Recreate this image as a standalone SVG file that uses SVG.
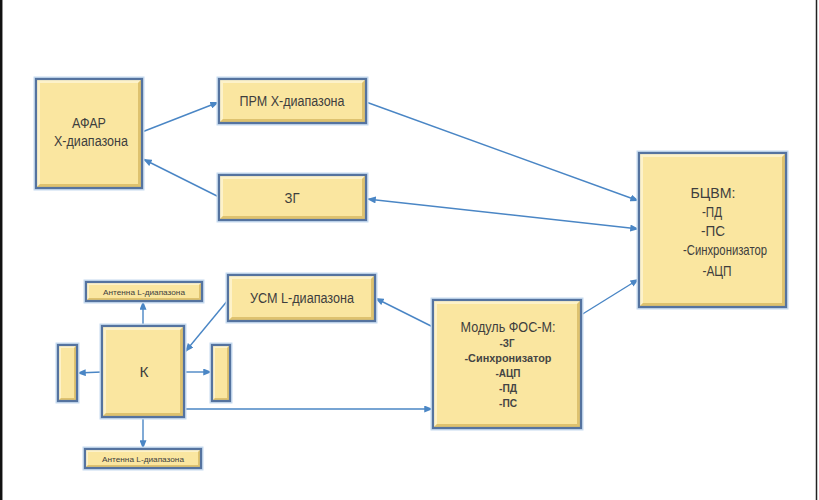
<svg xmlns="http://www.w3.org/2000/svg" width="819" height="500" viewBox="0 0 819 500">
<defs>
<marker id="ah" viewBox="0 0 10 8" refX="10" refY="4" markerWidth="9" markerHeight="7" markerUnits="userSpaceOnUse" orient="auto-start-reverse">
<path d="M0,0 L10,4 L0,8 Z" fill="#4A86C5"/>
</marker>
</defs>
<style>
.glow{fill:none;stroke:#C6DAEF;stroke-width:5}
.base{fill:#FAE6A0}
.lt{fill:#FDF2C9}
.dk{fill:#DEC26F}
.bd{fill:none;stroke:#55739F;stroke-width:2.2}
.t{font-family:"Liberation Sans Narrow","Liberation Sans",Arial,sans-serif;fill:#3E3E3E;text-anchor:middle}
.s{font-family:"Liberation Sans",Arial,sans-serif;fill:#444444;text-anchor:middle;font-weight:bold}
.c{fill:none;stroke:#4A86C5;stroke-width:1.4}
</style>
<rect x="0" y="0" width="819" height="500" fill="#FFFFFF"/>
<line x1="1.2" y1="0" x2="1.2" y2="500" stroke="#111" stroke-width="2.5"/>
<line x1="816.5" y1="0" x2="816.5" y2="500" stroke="#222" stroke-width="1.5"/>

<g id="connectors">
<line class="c" x1="142" y1="132" x2="219" y2="102" marker-end="url(#ah)"/>
<line class="c" x1="219" y1="197" x2="143" y2="159" marker-end="url(#ah)"/>
<line class="c" x1="366" y1="102" x2="639" y2="201" marker-end="url(#ah)"/>
<line class="c" x1="367" y1="199" x2="639" y2="229" marker-start="url(#ah)" marker-end="url(#ah)"/>
<line class="c" x1="581" y1="315" x2="639" y2="279" marker-end="url(#ah)"/>
<line class="c" x1="433" y1="327" x2="375" y2="298" marker-end="url(#ah)"/>
<line class="c" x1="228" y1="300" x2="185" y2="352" marker-end="url(#ah)"/>
<line class="c" x1="184" y1="409" x2="433" y2="409" marker-end="url(#ah)"/>
<line class="c" x1="143" y1="326" x2="143" y2="301" marker-end="url(#ah)"/>
<line class="c" x1="143" y1="417" x2="143" y2="449" marker-end="url(#ah)"/>
<line class="c" x1="102" y1="372" x2="77" y2="373" marker-end="url(#ah)"/>
<line class="c" x1="184" y1="372" x2="212" y2="372" marker-end="url(#ah)"/>
</g>

<g id="afar">
<rect class="glow" x="36" y="79" width="106" height="109"/>
<rect class="base" x="36" y="79" width="106" height="109"/>
<path class="lt" d="M36 79 H142 L138 83 H40 V184 L36 188 Z"/>
<path class="dk" d="M142 79 V188 H36 L40 184 H138 V83 Z"/>
<rect class="bd" x="36" y="79" width="106" height="109"/>
<text class="t" x="89" y="128" font-size="14" textLength="34" lengthAdjust="spacingAndGlyphs">АФАР</text>
<text class="t" x="91" y="146" font-size="14" textLength="74" lengthAdjust="spacingAndGlyphs">Х-диапазона</text>
</g>

<g id="prm">
<rect class="glow" x="219" y="79" width="147" height="44"/>
<rect class="base" x="219" y="79" width="147" height="44"/>
<path class="lt" d="M219 79 H366 L362 83 H223 V119 L219 123 Z"/>
<path class="dk" d="M366 79 V123 H219 L223 119 H362 V83 Z"/>
<rect class="bd" x="219" y="79" width="147" height="44"/>
<text class="t" x="292" y="106" font-size="14" textLength="105" lengthAdjust="spacingAndGlyphs">ПРМ Х-диапазона</text>
</g>

<g id="zg">
<rect class="glow" x="219" y="175" width="147" height="45"/>
<rect class="base" x="219" y="175" width="147" height="45"/>
<path class="lt" d="M219 175 H366 L362 179 H223 V216 L219 220 Z"/>
<path class="dk" d="M366 175 V220 H219 L223 216 H362 V179 Z"/>
<rect class="bd" x="219" y="175" width="147" height="45"/>
<text class="t" x="292" y="203" font-size="14" textLength="15" lengthAdjust="spacingAndGlyphs">ЗГ</text>
</g>

<g id="bcvm">
<rect class="glow" x="639" y="153" width="147" height="154"/>
<rect class="base" x="639" y="153" width="147" height="154"/>
<path class="lt" d="M639 153 H786 L782 157 H643 V303 L639 307 Z"/>
<path class="dk" d="M786 153 V307 H639 L643 303 H782 V157 Z"/>
<rect class="bd" x="639" y="153" width="147" height="154"/>
<text class="t" x="713" y="198" font-size="15" textLength="45" lengthAdjust="spacingAndGlyphs">БЦВМ:</text>
<text class="t" x="712" y="217" font-size="15" textLength="20" lengthAdjust="spacingAndGlyphs">-ПД</text>
<text class="t" x="713" y="236" font-size="15" textLength="24" lengthAdjust="spacingAndGlyphs">-ПС</text>
<text class="t" x="725" y="255" font-size="15" textLength="84" lengthAdjust="spacingAndGlyphs">-Синхронизатор</text>
<text class="t" x="717" y="276" font-size="15" textLength="29" lengthAdjust="spacingAndGlyphs">-АЦП</text>
</g>

<g id="usm">
<rect class="glow" x="228" y="275" width="147" height="46"/>
<rect class="base" x="228" y="275" width="147" height="46"/>
<path class="lt" d="M228 275 H375 L371 279 H232 V317 L228 321 Z"/>
<path class="dk" d="M375 275 V321 H228 L232 317 H371 V279 Z"/>
<rect class="bd" x="228" y="275" width="147" height="46"/>
<text class="t" x="302" y="303" font-size="14" textLength="104" lengthAdjust="spacingAndGlyphs">УСМ L-диапазона</text>
</g>

<g id="ant-top">
<rect class="glow" x="86" y="282" width="116" height="19"/>
<rect class="base" x="86" y="282" width="116" height="19"/>
<path class="lt" d="M86 282 H202 L199 285 H89 V298 L86 301 Z"/>
<path class="dk" d="M202 282 V301 H86 L89 298 H199 V285 Z"/>
<rect class="bd" x="86" y="282" width="116" height="19"/>
<text class="t" x="144" y="294.5" font-size="8" textLength="82" lengthAdjust="spacingAndGlyphs">Антенна L-диапазона</text>
</g>

<g id="k">
<rect class="glow" x="102" y="326" width="82" height="91"/>
<rect class="base" x="102" y="326" width="82" height="91"/>
<path class="lt" d="M102 326 H184 L180 330 H106 V413 L102 417 Z"/>
<path class="dk" d="M184 326 V417 H102 L106 413 H180 V330 Z"/>
<rect class="bd" x="102" y="326" width="82" height="91"/>
<text class="t" x="144" y="377" font-size="15" textLength="9" lengthAdjust="spacingAndGlyphs">К</text>
</g>

<g id="side-left">
<rect class="glow" x="58" y="345" width="19" height="56"/>
<rect class="base" x="58" y="345" width="19" height="56"/>
<path class="lt" d="M58 345 H77 L74 348 H61 V398 L58 401 Z"/>
<path class="dk" d="M77 345 V401 H58 L61 398 H74 V348 Z"/>
<rect class="bd" x="58" y="345" width="19" height="56"/>
</g>

<g id="side-right">
<rect class="glow" x="212" y="345" width="18" height="56"/>
<rect class="base" x="212" y="345" width="18" height="56"/>
<path class="lt" d="M212 345 H230 L227 348 H215 V398 L212 401 Z"/>
<path class="dk" d="M230 345 V401 H212 L215 398 H227 V348 Z"/>
<rect class="bd" x="212" y="345" width="18" height="56"/>
</g>

<g id="ant-bottom">
<rect class="glow" x="85" y="449" width="116" height="19"/>
<rect class="base" x="85" y="449" width="116" height="19"/>
<path class="lt" d="M85 449 H201 L198 452 H88 V465 L85 468 Z"/>
<path class="dk" d="M201 449 V468 H85 L88 465 H198 V452 Z"/>
<rect class="bd" x="85" y="449" width="116" height="19"/>
<text class="t" x="143" y="462" font-size="8" textLength="82" lengthAdjust="spacingAndGlyphs">Антенна L-диапазона</text>
</g>

<g id="fos">
<rect class="glow" x="433" y="300" width="148" height="128"/>
<rect class="base" x="433" y="300" width="148" height="128"/>
<path class="lt" d="M433 300 H581 L577 304 H437 V424 L433 428 Z"/>
<path class="dk" d="M581 300 V428 H433 L437 424 H577 V304 Z"/>
<rect class="bd" x="433" y="300" width="148" height="128"/>
<text class="t" x="508" y="332" font-size="14" textLength="95" lengthAdjust="spacingAndGlyphs">Модуль ФОС-М:</text>
<text class="s" x="507" y="347" font-size="10" textLength="15" lengthAdjust="spacingAndGlyphs">-ЗГ</text>
<text class="s" x="508" y="362" font-size="10" textLength="87" lengthAdjust="spacingAndGlyphs">-Синхронизатор</text>
<text class="s" x="508" y="377" font-size="10" textLength="25" lengthAdjust="spacingAndGlyphs">-АЦП</text>
<text class="s" x="508" y="392" font-size="10" textLength="18" lengthAdjust="spacingAndGlyphs">-ПД</text>
<text class="s" x="508" y="407" font-size="10" textLength="18" lengthAdjust="spacingAndGlyphs">-ПС</text>
</g>
</svg>
